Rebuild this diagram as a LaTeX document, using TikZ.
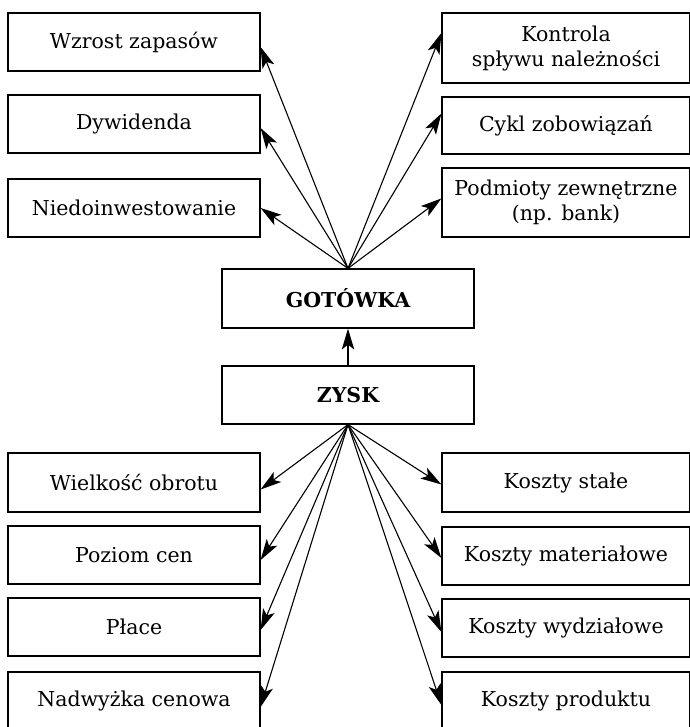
\documentclass[tikz,border=0pt]{standalone}
\usepackage{fontspec}
\setmainfont{DejaVu Serif}
\usetikzlibrary{arrows.meta}
\begin{document}
\begin{tikzpicture}[x=1pt,y=-1pt,
  box/.style={draw,line width=1.2pt,minimum height=58pt,inner sep=0pt,align=center,
    font=\fontsize{20.5}{25}\selectfont},
  lbox/.style={box,minimum width=252pt},
  rbox/.style={box,minimum width=248pt},
  cbox/.style={box,minimum width=252pt,font=\fontsize{20.5}{25}\selectfont\bfseries},
  arr/.style={line width=1.1pt,-{Stealth[length=21pt,width=12.5pt,inset=5pt]}}]
\useasboundingbox (0,0) rectangle (689,727);
% top left
\node[lbox] (wz) at (134,42) {Wzrost zapasów};
\node[lbox] (dy) at (134,124) {Dywidenda};
\node[lbox] (ni) at (134,208) {Niedoinwestowanie};
% top right
\node[rbox,minimum height=70pt] (ko) at (566,48) {Kontrola\\spływu należności};
\node[rbox,minimum height=57pt] (cy) at (566,125.5) {Cykl zobowiązań};
\node[rbox,minimum height=69pt] (po) at (566,202.5) {Podmioty zewnętrzne\\(np. bank)};
% centre
\node[cbox,minimum height=59pt] (go) at (348,298.5) {GOTÓWKA};
\node[cbox] (zy) at (348,395) {ZYSK};
% bottom left
\node[lbox,minimum height=59pt] (wi) at (134,482.5) {Wielkość obrotu};
\node[lbox] (pz) at (134,555) {Poziom cen};
\node[lbox] (pl) at (134,627) {Płace};
\node[lbox] (na) at (134,701) {Nadwyżka cenowa};
% bottom right
\node[rbox,minimum height=59pt] (ks) at (566,482.5) {Koszty stałe};
\node[rbox] (km) at (566,556) {Koszty materiałowe};
\node[rbox] (kw) at (566,628) {Koszty wydziałowe};
\node[rbox] (kp) at (566,701) {Koszty produktu};
% arrows
\draw[arr] (zy.north) -- (go.south);
\draw[arr] (go.north) -- ([yshift=-5pt]wz.east);
\draw[arr] (go.north) -- ([yshift=-4pt]dy.east);
\draw[arr] (go.north) -- (ni.east);
\draw[arr] (go.north) -- ([yshift=15pt]ko.west);
\draw[arr] (go.north) -- ([yshift=12pt]cy.west);
\draw[arr] (go.north) -- ([yshift=4pt]po.west);
\draw[arr] (zy.south) -- ([yshift=-7pt]wi.east);
\draw[arr] (zy.south) -- ([yshift=-5pt]pz.east);
\draw[arr] (zy.south) -- ([yshift=-3pt]pl.east);
\draw[arr] (zy.south) -- ([yshift=-6pt]na.east);
\draw[arr] (zy.south) -- ([yshift=-2pt]ks.west);
\draw[arr] (zy.south) -- ([yshift=-2pt]km.west);
\draw[arr] (zy.south) -- ([yshift=-4pt]kw.west);
\draw[arr] (zy.south) -- ([yshift=-4pt]kp.west);
\end{tikzpicture}
\end{document}
